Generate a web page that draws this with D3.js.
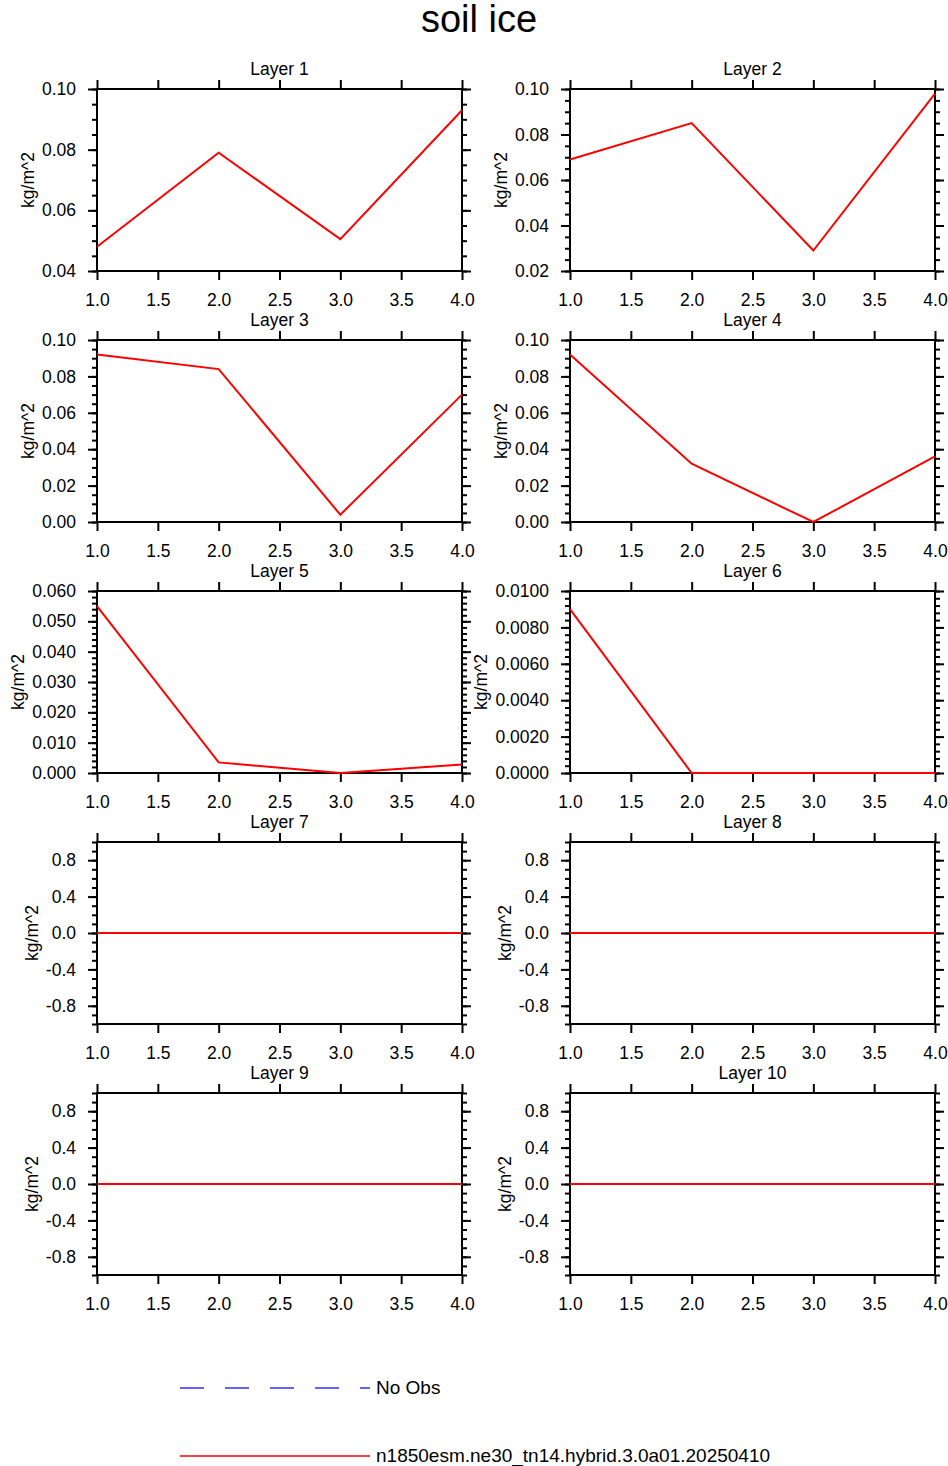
<!DOCTYPE html>
<html><head><meta charset="utf-8">
<script src="https://cdn.jsdelivr.net/npm/d3@7"></script>
<style>body{margin:0;background:#fff}text{font-family:"Liberation Sans",Arial,sans-serif}</style>
</head><body>
<svg id="c" width="948" height="1466"></svg>
<script>
const xValues=[1,2,3,4];
const xTicks=[1.0,1.5,2.0,2.5,3.0,3.5,4.0];
const layerNames=["Layer 1","Layer 2","Layer 3","Layer 4","Layer 5","Layer 6","Layer 7","Layer 8","Layer 9","Layer 10"];
const layer1=[0.048,0.079,0.0505,0.093];
const layer2=[0.069,0.085,0.029,0.098];
const layer3=[0.092,0.084,0.004,0.070];
const layer4=[0.092,0.032,0.0,0.036];
const layer5=[0.055,0.0035,0.0,0.0028];
const layer6=[0.009,0,0,0];
const layer7=[0,0,0,0];
const layer8=[0,0,0,0];
const layer9=[0,0,0,0];
const layer10=[0,0,0,0];
const yDomains=[[0.04,0.10],[0.02,0.10],[0,0.10],[0,0.10],[0,0.06],[0,0.01],[-1,1],[-1,1],[-1,1],[-1,1]];
const yMajor=[[0.04,0.06,0.08,0.10],[0.02,0.04,0.06,0.08,0.10],[0,0.02,0.04,0.06,0.08,0.10],[0,0.02,0.04,0.06,0.08,0.10],
 [0,0.01,0.02,0.03,0.04,0.05,0.06],[0,0.002,0.004,0.006,0.008,0.01],[-0.8,-0.4,0,0.4,0.8],[-0.8,-0.4,0,0.4,0.8],[-0.8,-0.4,0,0.4,0.8],[-0.8,-0.4,0,0.4,0.8]];
const yFormats=[".2f",".2f",".2f",".2f",".3f",".4f",".1f",".1f",".1f",".1f"];
const yMinorDiv=[4,4,4,4,5,5,4,4,4,4];
const series=[layer1,layer2,layer3,layer4,layer5,layer6,layer7,layer8,layer9,layer10];

const svg=d3.select("#c");
svg.append("text").attr("x",479).attr("y",32).attr("text-anchor","middle").attr("font-size",38).text("soil ice");
const colX=[97,570], rowY=[89,340,591,842,1093], W=365, H=182;
series.forEach((vals,i)=>{
  const ox=colX[i%2], oy=rowY[Math.floor(i/2)];
  const g=svg.append("g").attr("transform",`translate(${ox},${oy})`);
  const x=d3.scaleLinear().domain([1,4]).range([0,W]);
  const y=d3.scaleLinear().domain(yDomains[i]).range([H,0]);
  const maj=yMajor[i], step=maj[1]-maj[0], md=yMinorDiv[i];
  const minor=[];
  const [d0,d1]=yDomains[i];
  for(let v=maj[0]-step;v<=d1+1e-9;v+=step/md){ if(v>=d0-1e-9&&v<=d1+1e-9) minor.push(v);}
  const f=d3.format(yFormats[i]);
  const fmt=v=>f(v).replace("\u2212","-");
  const style=a=>a.call(s=>s.select(".domain").remove()).call(s=>s.selectAll("line").attr("stroke","#000").attr("stroke-width",2));
  g.append("g").call(d3.axisLeft(y).tickValues(minor).tickSize(5).tickFormat("")).call(style);
  g.append("g").attr("transform",`translate(${W},0)`).call(d3.axisRight(y).tickValues(minor).tickSize(5).tickFormat("")).call(style);
  const yl=g.append("g").call(d3.axisLeft(y).tickValues(maj).tickSize(9).tickPadding(12).tickFormat(fmt)).call(style);
  yl.selectAll("text").attr("font-size",17.5).attr("fill","#000");
  g.append("g").attr("transform",`translate(${W},0)`).call(d3.axisRight(y).tickValues(maj).tickSize(9).tickFormat("")).call(style);
  const xl=g.append("g").attr("transform",`translate(0,${H})`).call(d3.axisBottom(x).tickValues(xTicks).tickSize(9).tickPadding(14).tickFormat(d3.format(".1f"))).call(style);
  xl.selectAll("text").attr("font-size",17.5).attr("fill","#000");
  g.append("g").call(d3.axisTop(x).tickValues(xTicks).tickSize(9).tickFormat("")).call(style);
  g.append("rect").attr("width",W).attr("height",H).attr("fill","none").attr("stroke","#000").attr("stroke-width",2);
  g.append("path").datum(vals).attr("fill","none").attr("stroke","#ff0000").attr("stroke-width",2)
    .attr("d",d3.line().x((d,j)=>x(xValues[j])).y(d=>y(d)));
  g.append("text").attr("x",W/2).attr("y",-14).attr("text-anchor","middle").attr("font-size",17.5).text(layerNames[i]);
  const bb=yl.node().getBBox();
  g.append("text").attr("transform",`translate(${bb.x-8},${H/2}) rotate(-90)`).attr("text-anchor","middle").attr("font-size",17.5).text("kg/m^2");
});
const lg=svg.append("g");
lg.append("line").attr("x1",180).attr("x2",370).attr("y1",1388).attr("y2",1388).attr("stroke","#3030ff").attr("stroke-width",1.5).attr("stroke-dasharray","24,21");
lg.append("text").attr("x",376).attr("y",1394).attr("font-size",19).text("No Obs");
lg.append("line").attr("x1",180).attr("x2",370).attr("y1",1456).attr("y2",1456).attr("stroke","#ff0000").attr("stroke-width",1.5);
lg.append("text").attr("x",376).attr("y",1462).attr("font-size",19).text("n1850esm.ne30_tn14.hybrid.3.0a01.20250410");
</script>
</body></html>
